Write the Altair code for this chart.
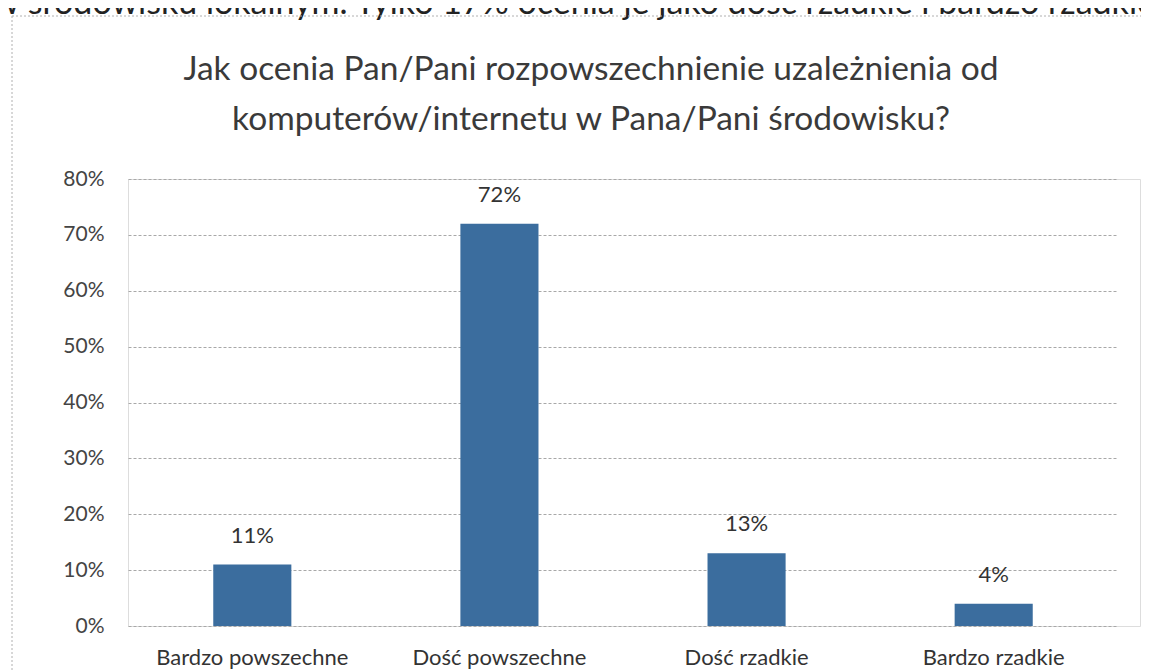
import altair as alt
import pandas as pd

categories = ["Bardzo powszechne", "Dość powszechne", "Dość rzadkie", "Bardzo rzadkie"]
values = [0.11, 0.72, 0.13, 0.04]
value_labels = ["11%", "72%", "13%", "4%"]
y_ticks = [0, 0.1, 0.2, 0.3, 0.4, 0.5, 0.6, 0.7, 0.8]
title_line1 = "Jak ocenia Pan/Pani rozpowszechnienie uzależnienia od"
title_line2 = "komputerów/internetu w Pana/Pani środowisku?"
top_text = "powszechne w środowisku lokalnym. Tylko 17% ocenia je jako dość rzadkie i bardzo rzadkie"

df = pd.DataFrame({"kat": categories, "v": values, "lab": value_labels})

FONT = "Lato"
W, H = 1012, 447

x = alt.X("kat:N", sort=categories, title=None,
          scale=alt.Scale(paddingInner=0.684, paddingOuter=0.345, range=[0, 990]),
          axis=alt.Axis(labelAngle=0, labelFontSize=22, labelColor="#333333", labelLimit=0,
                        labelFont=FONT, ticks=False, domain=False, labelPadding=21))
y = alt.Y("v:Q", title=None,
          scale=alt.Scale(domain=[0, 0.8]),
          axis=alt.Axis(values=y_ticks, format=".0%", labelFontSize=21, labelFont=FONT,
                        labelColor="#444444", ticks=False, domain=False, labelPadding=24,
                        gridColor="#a8a8a8", gridDash=[3, 2], gridWidth=1))

base = alt.Chart(df)
bars = base.mark_bar(color="#3b6d9e").encode(x=x, y=y)
labels = base.mark_text(dy=-29, fontSize=22, font=FONT, color="#333333").encode(
    x=alt.X("kat:N", sort=categories), y=alt.Y("v:Q"), text="lab:N")

one = pd.DataFrame({"a": [0]})


def text_line(txt, px, py, size, color, align="center", baseline="middle"):
    return alt.Chart(pd.DataFrame({"t": [txt]})).mark_text(
        fontSize=size, font=FONT, color=color, baseline=baseline, align=align).encode(
        x=alt.value(px), y=alt.value(py), text="t:N")


title1 = text_line(title_line1, 463, -109, 33.5, "#3a3a3a")
title2 = text_line(title_line2, 463, -59, 33.5, "#3a3a3a")
top = text_line(top_text, 1027, -165, 34, "#222222", align="right", baseline="alphabetic")

left_rule = alt.Chart(one).mark_rule(color="#b0b0b0", strokeDash=[2, 2]).encode(
    x=alt.value(-116), y=alt.value(-163), y2=alt.value(H + 60))
top_rule = alt.Chart(one).mark_rule(color="#b0b0b0", strokeDash=[2, 2]).encode(
    x=alt.value(-116), x2=alt.value(W + 30), y=alt.value(-163))

chart = alt.layer(bars, labels, title1, title2, top, left_rule, top_rule).properties(
    width=W, height=H,
    autosize=alt.AutoSizeParams(type="none"),
    padding={"left": 120, "top": 171, "right": 1, "bottom": 45},
).configure_view(stroke=None).configure(background="white")

chart.save("out.html", embed_options={"renderer": "svg", "actions": False})
